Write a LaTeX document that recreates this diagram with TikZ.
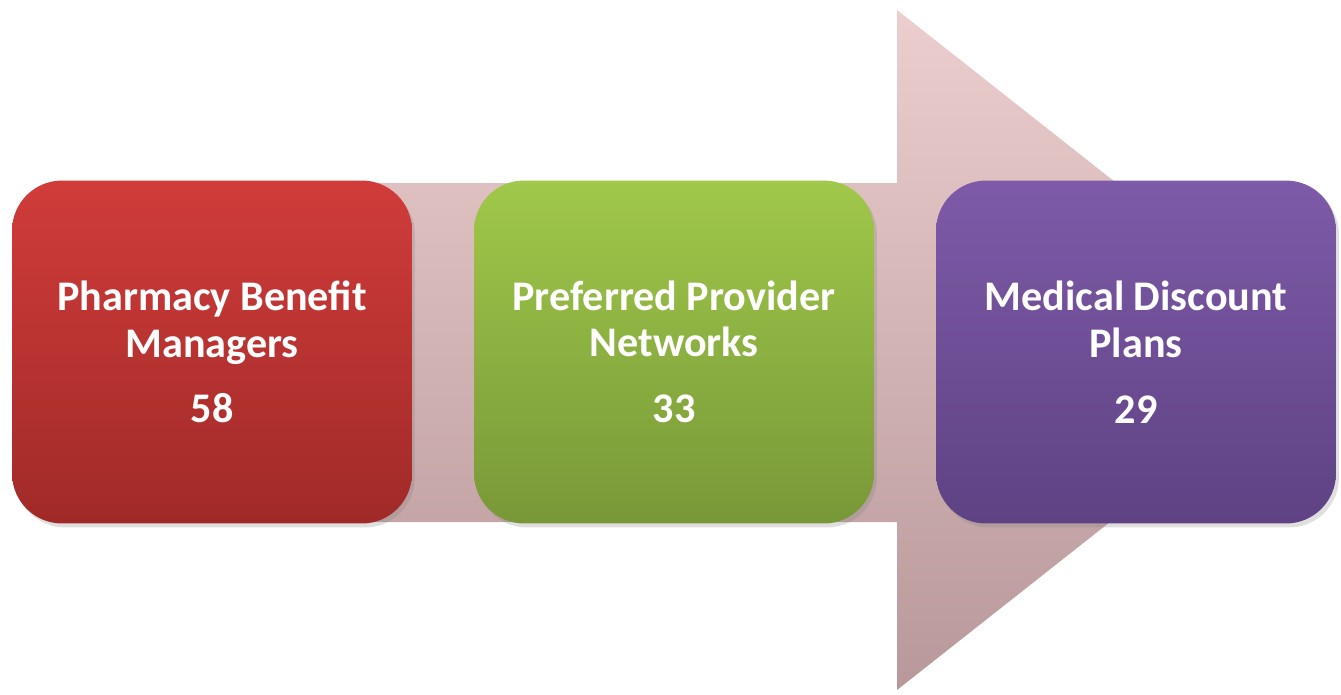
\documentclass[tikz,border=0pt]{standalone}
\usepackage{fontspec}
\setmainfont{Carlito}
\usetikzlibrary{shadows}

\definecolor{arrowTop}{RGB}{236,206,206}
\definecolor{arrowBot}{RGB}{184,152,154}
\definecolor{redTop}{RGB}{208,60,58}
\definecolor{redBot}{RGB}{160,42,40}
\definecolor{greenTop}{RGB}{160,200,74}
\definecolor{greenBot}{RGB}{120,152,56}
\definecolor{purpleTop}{RGB}{126,90,168}
\definecolor{purpleBot}{RGB}{94,66,131}

\begin{document}
\begin{tikzpicture}[x=0.02cm,y=-0.02cm,
    box/.style={draw=none,rounded corners=1cm,
        minimum width=8cm,minimum height=6.86cm,
        text=white,align=center,
        font=\fontsize{24}{26.5}\selectfont\bfseries,
        drop shadow={opacity=0.25,shadow xshift=0.6mm,shadow yshift=-0.8mm}}]
    \useasboundingbox (0,0) rectangle (1341,694);

    \coordinate (tail1) at (150,183);
    \coordinate (neck1) at (897,183);
    \coordinate (headTop) at (897,10);
    \coordinate (tip) at (1328,350);
    \coordinate (headBot) at (897,690);
    \coordinate (neck2) at (897,522);
    \coordinate (tail2) at (150,522);

    \shade [top color=arrowTop,bottom color=arrowBot] (tail1)
        -- (neck1) -- (headTop) -- (tip) -- (headBot)
        -- (neck2) -- (tail2) -- cycle;

    \node[box,top color=redTop,bottom color=redBot] (box1)
        at (212,352) {Pharmacy Benefit\\Managers\\[11pt]58};
    \node[box,top color=greenTop,bottom color=greenBot] (box2)
        at (674,352) {Preferred Provider\\Networks\\[11pt]33};
    \node[box,top color=purpleTop,bottom color=purpleBot] (box3)
        at (1136,352) {Medical Discount\\Plans\\[11pt]29};
\end{tikzpicture}
\end{document}
